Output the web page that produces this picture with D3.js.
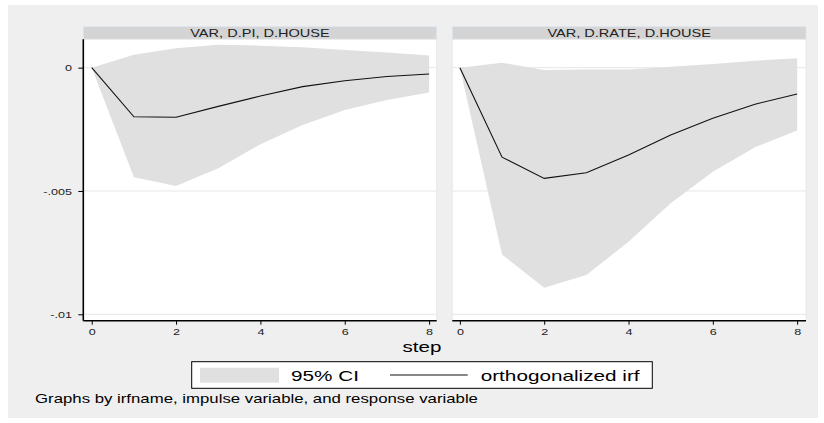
<!DOCTYPE html>
<html><head><meta charset="utf-8">
<script src="https://cdn.jsdelivr.net/npm/d3@7"></script>
<style>html,body{margin:0;padding:0;background:#fff}svg{display:block;font-family:"Liberation Sans",Arial,sans-serif}</style>
</head><body>
<script>
const steps = [0,1,2,3,4,5,6,7,8];
const panelTitles = ["VAR, D.PI, D.HOUSE","VAR, D.RATE, D.HOUSE"];
const leftIrf = [0,-0.00199,-0.00201,-0.00157,-0.00115,-0.00077,-0.00053,-0.00036,-0.00026];
const leftLo  = [0,-0.00444,-0.00480,-0.00408,-0.00311,-0.00232,-0.00172,-0.00131,-0.00101];
const leftHi  = [0,0.00052,0.00079,0.00093,0.00089,0.00083,0.00072,0.00061,0.00049];
const rightIrf = [0,-0.00363,-0.00449,-0.00426,-0.00354,-0.00273,-0.00205,-0.00148,-0.00107];
const rightLo  = [0,-0.00758,-0.00892,-0.00841,-0.00706,-0.00550,-0.00422,-0.00323,-0.00255];
const rightHi  = [0,0.00020,-0.00009,-0.00007,-0.00007,0.00004,0.00015,0.00028,0.00038];
const yTicks = [0,-0.005,-0.01];
const yTickLabels = ["0","-.005","-.01"];
const xTicks = [0,2,4,6,8];
const xTickLabels = ["0","2","4","6","8"];
const xTitle = "step";
const legendLabels = ["95% CI","orthogonalized irf"];
const note = "Graphs by irfname, impulse variable, and response variable";

const SX = 1.4; // horizontal stretch of text in the reference
const W = 824, H = 423;
const svg = d3.select("body").append("svg").attr("width",W).attr("height",H);
svg.append("rect").attr("x",8).attr("y",5).attr("width",810).attr("height",413).attr("fill","#efefef");

const plotTop = 39.3, plotBottom = 320.7;
const y = d3.scaleLinear().domain([-0.01026,0.00115]).range([plotBottom,plotTop]);
const panels = [
  {title:panelTitles[0], irf:leftIrf, lo:leftLo, hi:leftHi, x0:83.3, x1:436.7, dom:[-0.2,8.18], yaxis:true},
  {title:panelTitles[1], irf:rightIrf, lo:rightLo, hi:rightHi, x0:452.3, x1:806, dom:[-0.18,8.21], yaxis:false}
];

function stext(g, x, yy, str, size, anchor, color){
  return g.append("text").attr("transform",`translate(${x},${yy}) scale(${SX},1)`)
    .attr("text-anchor",anchor).attr("font-size",size).attr("fill",color||"#000").text(str);
}

panels.forEach(p=>{
  const x = d3.scaleLinear().domain(p.dom).range([p.x0,p.x1]);
  const g = svg.append("g");
  g.append("rect").attr("x",p.x0).attr("y",26.7).attr("width",p.x1-p.x0).attr("height",12.6)
    .attr("fill","#d4d4d4").attr("stroke","#dce5ee").attr("stroke-width",0.8);
  stext(g,(p.x0+p.x1)/2,36.6,p.title,10.4,"middle","#222");
  g.append("rect").attr("x",p.x0).attr("y",plotTop).attr("width",p.x1-p.x0).attr("height",plotBottom-plotTop)
    .attr("fill","#fff").attr("stroke","#e6e6e6").attr("stroke-width",0.8);
  g.selectAll("line.grid").data(yTicks).join("line").attr("class","grid")
    .attr("x1",p.x0).attr("x2",p.x1).attr("y1",d=>y(d)).attr("y2",d=>y(d))
    .attr("stroke","#e6e6e6").attr("stroke-width",1);
  const area = d3.area().x((d,i)=>x(steps[i])).y0((d,i)=>y(p.lo[i])).y1((d,i)=>y(p.hi[i]));
  g.append("path").datum(steps).attr("d",area).attr("fill","#e0e0e0");
  const line = d3.line().x((d,i)=>x(steps[i])).y(d=>y(d));
  g.append("path").datum(p.irf).attr("d",line).attr("fill","none").attr("stroke","#111").attr("stroke-width",1.1);
  const xa = g.append("g").attr("transform",`translate(0,${plotBottom})`)
    .call(d3.axisBottom(x).tickValues(xTicks).tickSize(4).tickSizeOuter(0).tickFormat((d,i)=>xTickLabels[i]));
  xa.attr("font-family",null);
  xa.select(".domain").attr("stroke","#000").attr("stroke-width",1.6).attr("d",`M${p.x0},0H${p.x1}`);
  xa.selectAll(".tick line").attr("stroke","#000");
  xa.selectAll(".tick text").attr("font-size",9).attr("dy",null).attr("y",14.3)
    .attr("transform",`scale(${SX},1)`).attr("fill","#222");
  if(p.yaxis){
    const ya = g.append("g").attr("transform",`translate(${p.x0},0)`)
      .call(d3.axisLeft(y).tickValues(yTicks).tickSize(5).tickSizeOuter(0).tickFormat((d,i)=>yTickLabels[i]));
    ya.attr("font-family",null);
    ya.select(".domain").attr("stroke","#000").attr("stroke-width",1.6).attr("d",`M0,${plotTop}V${plotBottom}`);
    ya.selectAll(".tick line").attr("stroke","#000");
    ya.selectAll(".tick text").attr("font-size",9).attr("x",-11.3/SX).attr("dy","0.34em")
      .attr("transform",`scale(${SX},1)`).attr("fill","#222");
  }
});

stext(svg,422,352,xTitle,14.7,"middle","#000");

svg.append("rect").attr("x",191.7).attr("y",361.7).attr("width",460.6).attr("height",26.6)
  .attr("fill","#fff").attr("stroke","#000").attr("stroke-width",1);
svg.append("rect").attr("x",200).attr("y",367.7).attr("width",79).attr("height",15).attr("fill","#e0e0e0");
stext(svg,291,380.5,legendLabels[0],14.8,"start","#000");
svg.append("line").attr("x1",390).attr("x2",467.7).attr("y1",375).attr("y2",375).attr("stroke","#111").attr("stroke-width",1.1);
stext(svg,480.7,380.5,legendLabels[1],14.8,"start","#000");

stext(svg,35,403,note,12,"start","#000");
</script>
</body></html>
